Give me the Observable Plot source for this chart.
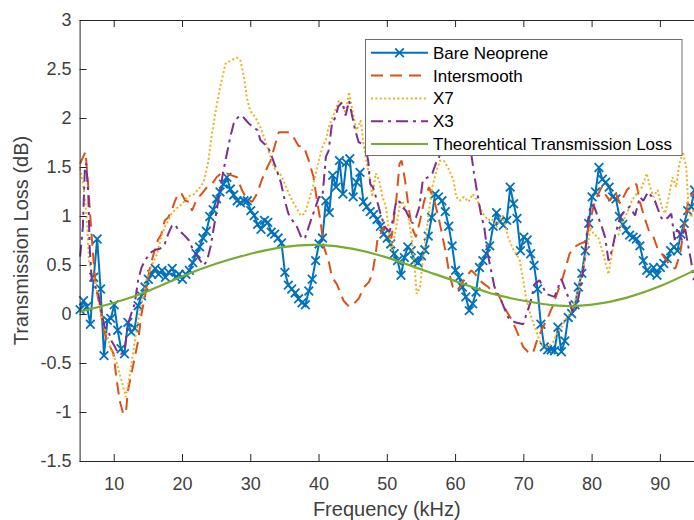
<!DOCTYPE html>
<html>
<head>
<meta charset="utf-8">
<script src="https://cdn.jsdelivr.net/npm/d3@7"></script>
<script src="https://cdn.jsdelivr.net/npm/@observablehq/plot@0.6"></script>
<style>
  html, body { margin: 0; padding: 0; background: #fff; }
  #chart { width: 694px; height: 520px; }
</style>
</head>
<body>
<div id="chart"></div>
<script>
// Bare neoprene panel, sampled every 0.5 kHz
const bareKHz = [
  5,5.5,6,6.5,7,7.5,8,8.5,9,9.5,
  10,10.5,11,11.5,12,12.5,13,13.5,14,14.5,
  15,15.5,16,16.5,17,17.5,18,18.5,19,19.5,
  20,20.5,21,21.5,22,22.5,23,23.5,24,24.5,
  25,25.5,26,26.5,27,27.5,28,28.5,29,29.5,
  30,30.5,31,31.5,32,32.5,33,33.5,34,34.5,
  35,35.5,36,36.5,37,37.5,38,38.5,39,39.5,
  40,40.5,41,41.5,42,42.5,43,43.5,44,44.5,
  45,45.5,46,46.5,47,47.5,48,48.5,49,49.5,
  50,50.5,51,51.5,52,52.5,53,53.5,54,54.5,
  55,55.5,56,56.5,57,57.5,58,58.5,59,59.5,
  60,60.5,61,61.5,62,62.5,63,63.5,64,64.5,
  65,65.5,66,66.5,67,67.5,68,68.5,69,69.5,
  70,70.5,71,71.5,72,72.5,73,73.5,74,74.5,
  75,75.5,76,76.5,77,77.5,78,78.5,79,79.5,
  80,80.5,81,81.5,82,82.5,83,83.5,84,84.5,
  85,85.5,86,86.5,87,87.5,88,88.5,89,89.5,
  90,90.5,91,91.5,92,92.5,93,93.5,94,94.5,
  95
];
const bareDB = [
  0.05,0.14,0.08,-0.10,0.38,0.77,0.26,-0.42,-0.06,-0.04,
  0.10,-0.16,-0.35,-0.40,-0.08,-0.18,-0.14,0.09,0.19,0.28,
  0.36,0.41,0.47,0.41,0.45,0.38,0.43,0.47,0.38,0.41,
  0.36,0.41,0.45,0.53,0.62,0.69,0.78,0.85,1.00,1.07,
  1.18,1.25,1.33,1.40,1.28,1.22,1.16,1.14,1.16,1.16,
  1.06,1.01,0.92,0.87,0.96,0.94,0.84,0.82,0.78,0.73,
  0.43,0.30,0.26,0.22,0.16,0.12,0.10,0.24,0.36,0.55,
  0.72,0.78,1.16,1.04,1.42,1.30,1.57,1.23,1.55,1.59,
  1.20,1.35,1.45,1.15,1.10,1.05,1.02,0.97,0.90,0.82,
  0.78,0.72,0.62,0.55,0.40,0.58,0.69,0.65,0.55,0.53,
  0.60,0.66,0.80,0.99,1.23,1.20,1.16,1.05,0.90,0.70,
  0.45,0.38,0.28,0.18,0.04,0.11,0.23,0.48,0.55,0.62,
  0.70,0.90,1.04,0.95,0.91,0.96,1.30,1.13,0.98,0.65,
  0.79,0.76,0.62,0.50,0.26,-0.10,-0.33,-0.36,-0.36,-0.37,
  -0.13,-0.38,-0.27,-0.03,0.01,0.10,0.28,0.42,0.65,0.93,
  1.20,1.25,1.50,1.38,1.35,1.30,1.20,1.18,1.00,0.92,
  0.86,0.81,0.79,0.77,0.70,0.55,0.45,0.42,0.48,0.40,
  0.48,0.52,0.57,0.65,0.69,0.65,0.82,0.93,1.06,1.10,
  1.27
];

// Intersmooth coating
const interKHz = [
  5.0,5.8,6.2,6.7,7.2,7.6,8.0,8.4,8.9,9.4,
  9.9,10.3,10.8,11.3,11.7,12.0,12.5,13.0,13.5,14.0,
  14.5,14.8,15.3,15.9,16.4,16.9,17.4,17.9,18.4,18.9,
  19.4,19.9,20.4,21.0,21.4,22.1,22.8,23.6,24.3,25.0,
  25.8,26.5,27.2,28.0,28.7,29.4,30.2,30.9,31.6,32.2,
  32.9,33.6,34.1,34.8,35.4,36.1,37.0,37.8,38.5,39.2,
  39.7,40.2,40.7,41.4,41.9,42.6,43.2,43.6,44.4,45.1,
  45.8,46.6,47.3,47.8,48.3,48.6,49.0,49.5,50.0,50.6,
  51.3,51.8,52.1,52.6,53.1,53.6,54.2,54.8,55.4,56.1,
  56.9,57.6,58.1,58.6,59.1,59.6,60.2,60.9,61.5,62.3,
  62.9,63.5,64.2,64.8,65.5,66.2,67.0,67.4,68.2,68.9,
  69.9,70.6,71.3,72.0,72.6,73.5,74.2,75.0,75.8,76.7,
  77.4,78.2,78.9,79.5,80.4,81.4,81.9,82.6,83.4,84.1,
  85.1,86.0,86.5,87.0,87.8,88.3,89.0,89.7,90.2,90.9,
  91.7,92.2,92.9,93.6,94.1,94.7,95.0
];
const interDB = [
  1.54,1.66,1.30,0.79,0.35,0.18,0.04,-0.13,-0.27,-0.33,
  -0.40,-0.64,-0.88,-1.01,-1.01,-0.78,-0.61,-0.44,-0.27,0.01,
  0.18,0.31,0.50,0.65,0.76,0.82,0.96,0.99,1.06,1.16,
  1.24,1.23,1.16,1.15,1.06,1.18,1.23,1.30,1.33,1.40,
  1.45,1.44,1.42,1.40,1.27,1.18,1.15,1.23,1.37,1.47,
  1.57,1.74,1.86,1.86,1.86,1.83,1.72,1.71,1.57,1.40,
  1.16,0.96,0.69,0.55,0.38,0.31,0.21,0.14,0.08,0.11,
  0.16,0.28,0.33,0.41,0.62,0.79,0.82,0.90,0.80,0.78,
  1.16,1.54,1.57,1.37,1.10,0.89,0.79,0.96,1.16,1.30,
  1.16,0.96,0.79,0.62,0.41,0.28,0.24,0.31,0.38,0.45,
  0.41,0.35,0.31,0.28,0.22,0.21,0.10,0.04,-0.05,-0.16,
  -0.33,-0.38,-0.40,-0.25,-0.16,-0.03,0.08,0.24,0.40,0.62,
  0.69,0.72,0.74,0.89,1.16,1.30,1.23,1.16,1.25,1.13,
  1.27,1.33,1.33,1.15,0.96,0.86,0.79,0.65,0.62,0.55,
  0.48,0.47,0.62,0.96,1.16,1.23,1.25
];

// X7 coating
const x7KHz = [
  5.0,5.5,5.8,6.0,6.3,6.8,7.3,7.7,8.2,9.0,
  9.7,10.4,11.2,11.7,12.1,12.6,13.1,13.6,14.3,14.8,
  15.6,16.3,16.9,17.4,18.4,19.4,20.0,20.7,21.7,22.6,
  23.1,23.8,24.3,24.8,25.5,26.3,27.0,28.0,28.5,29.0,
  29.4,29.9,30.7,31.4,32.1,32.9,33.6,34.3,35.0,35.8,
  36.6,37.3,37.9,38.5,39.1,39.7,40.5,41.0,41.4,42.2,
  42.9,43.4,43.9,44.4,44.9,45.5,46.1,46.5,47.0,47.4,
  47.8,48.3,48.8,49.3,49.8,50.3,50.7,51.3,51.8,52.2,
  53.0,53.5,54.0,54.3,54.8,55.2,55.7,56.2,56.6,57.1,
  57.7,58.3,59.1,59.7,60.1,60.6,61.2,61.9,62.5,63.2,
  64.0,64.8,65.3,66.0,66.5,66.9,67.7,68.4,68.9,69.4,
  69.9,70.4,71.1,71.8,72.3,72.8,73.5,74.3,74.8,75.5,
  76.2,77.0,77.7,78.2,78.7,79.2,79.8,80.2,80.9,81.7,
  82.4,82.9,83.4,83.9,84.3,85.1,85.8,86.5,87.3,88.0,
  88.5,89.0,89.6,90.2,90.7,91.3,91.8,92.3,92.8,93.3,
  93.8,94.1,94.5,95.0
];
const x7DB = [
  1.49,1.30,1.10,0.95,0.55,0.40,0.31,0.14,-0.03,-0.23,
  -0.40,-0.50,-0.71,-0.84,-0.69,-0.47,-0.23,-0.03,0.21,0.38,
  0.52,0.62,0.80,0.89,1.03,1.10,1.13,1.20,1.23,1.30,
  1.35,1.57,1.84,2.05,2.32,2.56,2.59,2.62,2.59,2.42,
  2.22,2.08,2.01,1.91,1.78,1.61,1.47,1.44,1.33,1.20,
  1.10,1.01,1.03,1.16,1.30,1.50,1.71,1.78,1.91,2.05,
  2.18,2.15,2.05,2.27,2.08,1.88,1.98,1.75,1.54,1.40,
  1.20,1.44,1.37,1.20,1.10,0.82,0.65,0.89,1.10,1.16,
  1.03,0.82,0.48,0.21,0.28,0.55,0.82,1.10,1.30,1.44,
  1.57,1.57,1.47,1.37,1.20,1.16,1.20,1.15,1.23,1.16,
  1.03,0.96,0.98,0.89,0.96,1.01,0.79,0.67,0.62,0.55,
  0.35,0.14,-0.03,-0.16,-0.27,-0.32,-0.33,-0.28,-0.20,-0.13,
  -0.04,0.04,0.18,0.31,0.48,0.65,0.89,0.82,0.79,0.60,
  0.41,0.62,0.79,0.82,0.93,1.03,1.16,1.23,1.30,1.44,
  1.30,1.20,1.27,1.10,1.03,1.23,1.40,1.30,1.54,1.66,
  1.50,1.10,0.99,1.10
];

// X3 coating
const x3KHz = [
  5.0,5.4,5.7,5.9,6.2,6.4,6.7,7.2,7.6,8.1,
  8.6,9.1,9.6,10.1,10.6,11.1,11.5,12.0,12.5,13.0,
  13.5,14.0,14.5,15.0,15.5,16.0,16.7,17.4,17.9,18.4,
  18.9,19.4,20.1,20.9,21.6,22.4,23.1,23.6,24.1,24.6,
  25.0,25.5,26.0,26.5,27.0,27.5,28.1,28.7,29.2,29.7,
  30.4,31.0,31.4,32.0,32.5,33.1,33.8,34.4,35.0,35.5,
  36.1,36.8,37.5,38.0,38.8,39.5,40.0,40.5,41.0,41.4,
  41.9,42.4,42.8,43.4,43.9,44.4,44.9,45.3,45.8,46.3,
  46.8,47.2,47.5,47.9,48.5,49.0,49.6,50.3,50.8,51.3,
  51.8,52.2,52.7,53.2,53.7,54.2,54.7,55.2,55.9,56.6,
  57.1,57.6,58.5,59.5,60.5,61.5,62.3,62.7,63.2,63.7,
  64.2,64.7,65.2,65.7,66.7,67.7,68.7,69.9,70.9,71.6,
  72.3,73.3,74.5,75.5,76.5,77.2,77.7,78.4,78.9,79.4,
  79.8,80.3,80.9,81.4,81.9,82.4,82.9,83.4,84.1,84.8,
  85.5,86.3,87.0,87.5,88.2,89.2,90.1,90.6,91.1,91.6,
  92.1,92.5,93.1,93.6,94.1,94.5,94.9
];
const x3DB = [
  0.59,0.89,1.50,1.54,1.23,0.69,0.35,0.28,0.24,0.04,
  -0.13,-0.16,-0.27,-0.33,-0.40,-0.40,-0.37,-0.10,0.01,0.11,
  0.35,0.48,0.55,0.60,0.64,0.66,0.67,0.72,0.82,0.90,
  0.92,0.86,0.82,0.76,0.65,0.57,0.50,0.55,0.69,0.89,
  1.06,1.27,1.47,1.64,1.81,1.95,2.01,2.03,1.99,1.95,
  1.91,1.88,1.78,1.74,1.71,1.61,1.47,1.35,1.16,1.03,
  0.96,0.89,0.77,0.79,0.96,1.10,1.20,1.20,1.61,1.67,
  1.95,2.01,2.12,2.17,2.03,2.18,2.01,1.88,1.76,1.74,
  1.71,1.57,1.33,1.30,1.16,1.03,0.90,0.84,0.96,1.16,
  1.15,1.10,1.06,0.99,0.93,0.99,1.10,1.37,1.40,1.44,
  1.54,1.61,1.78,1.85,1.82,1.75,1.64,1.44,1.23,1.03,
  0.89,0.62,0.45,0.28,0.14,-0.03,-0.08,-0.10,0.11,0.31,
  0.35,0.21,0.18,0.36,0.18,0.01,0.07,0.31,0.55,0.96,
  1.13,1.10,0.99,0.90,0.79,0.55,0.65,0.82,0.99,1.06,
  1.10,1.01,1.20,1.16,1.25,1.16,0.99,0.96,0.99,1.03,
  0.76,0.89,0.76,0.89,0.69,0.55,0.35
];

// Theoretical transmission loss
const theoryKHz = [5,10,15,20,25,30,35,40,45,50,55,60,65,70,75,80,85,90,95];
const theoryDB = [0.03,0.12,0.24,0.39,0.52,0.62,0.69,0.71,0.67,0.58,0.46,0.34,0.22,0.14,0.09,0.10,0.17,0.29,0.45];

const xTicks = [10,20,30,40,50,60,70,80,90];
const yTicks = [-1.5,-1,-0.5,0,0.5,1,1.5,2,2.5,3];

const seriesNames = ["Bare Neoprene","Intersmooth","X7","X3","Theorehtical Transmission Loss"];
const seriesColors = ["#0072BD","#D95319","#EDB120","#7E2F8E","#77AC30"];
const seriesDash = [null,"12,7","2,2.4","12,5,3,5",null];

const rows = (ks, ds) => ks.map((f, i) => ({f, v: ds[i]}));
const bare = rows(bareKHz, bareDB);
const inter = rows(interKHz, interDB);
const x7 = rows(x7KHz, x7DB);
const x3 = rows(x3KHz, x3DB);
const theory = rows(theoryKHz, theoryDB);

const W = 694, H = 520;
const mL = 79.6, mR = 0, mT = 20, mB = 59;
const innerW = W - mL - mR, innerH = H - mT - mB;
const axisInk = "#262626";
const tickLen = 7;
const markerR = 4;
const font = "'Liberation Sans', Arial, Helvetica, sans-serif";

const dashed = (data, i) => Plot.line(data, {
  x: "f", y: "v", stroke: seriesColors[i], strokeWidth: 2,
  strokeDasharray: seriesDash[i], strokeLinecap: "butt", strokeLinejoin: "miter"
});

const chart = Plot.plot({
  width: W, height: H,
  marginLeft: mL, marginRight: mR, marginTop: mT, marginBottom: mB,
  style: {fontFamily: font, fontSize: "18px", color: "#404040", background: "#fff", overflow: "visible"},
  x: {domain: [5, 95]},
  y: {domain: [-1.5, 3]},
  marks: [
    // data series
    Plot.line(bare, {x: "f", y: "v", stroke: seriesColors[0], strokeWidth: 2}),
    Plot.dot(bare, {x: "f", y: "v", symbol: "times", r: markerR, stroke: seriesColors[0], fill: "none", strokeWidth: 1.8}),
    dashed(inter, 1),
    dashed(x7, 2),
    dashed(x3, 3),
    Plot.line(theory, {x: "f", y: "v", stroke: seriesColors[4], strokeWidth: 2.2, curve: "natural"}),
    // box and inward ticks
    Plot.frame({stroke: axisInk, strokeWidth: 1}),
    Plot.ruleX(xTicks, {x: d => d, insetTop: innerH - tickLen, stroke: axisInk}),
    Plot.ruleX(xTicks, {x: d => d, insetBottom: innerH - tickLen, stroke: axisInk}),
    Plot.ruleY(yTicks, {y: d => d, insetRight: innerW - tickLen, stroke: axisInk}),
    Plot.axisX(xTicks, {tickSize: 0, tickPadding: 16, tickFormat: d => String(d), label: null}),
    Plot.axisY(yTicks, {tickSize: 0, tickPadding: 8.6, tickFormat: d => String(d), label: null})
  ]
});

document.getElementById("chart").appendChild(chart);

const svg = d3.select(chart);

// axis titles
svg.append("text")
  .attr("x", mL + innerW / 2).attr("y", 516)
  .attr("text-anchor", "middle")
  .attr("font-family", font).attr("font-size", 20).attr("fill", "#404040")
  .text("Frequency (kHz)");
svg.append("text")
  .attr("transform", `translate(28,${mT + innerH / 2}) rotate(-90)`)
  .attr("text-anchor", "middle")
  .attr("font-family", font).attr("font-size", 20).attr("fill", "#404040")
  .text("Transmission Loss (dB)");

// legend box
const lg = svg.append("g");
lg.append("rect")
  .attr("x", 365.5).attr("y", 39.5).attr("width", 316.5).attr("height", 116)
  .attr("fill", "#fff").attr("stroke", "#6e6e6e").attr("stroke-width", 1);
seriesNames.forEach((name, i) => {
  const y = 52.8 + i * 22.8;
  lg.append("line")
    .attr("x1", 371).attr("x2", 428).attr("y1", y).attr("y2", y)
    .attr("stroke", seriesColors[i]).attr("stroke-width", 2)
    .attr("stroke-linecap", "butt")
    .attr("stroke-dasharray", seriesDash[i]);
  if (i === 0) {
    lg.append("path")
      .attr("transform", `translate(399.5,${y})`)
      .attr("d", d3.symbol(d3.symbolTimes, Math.PI * markerR * markerR)())
      .attr("fill", "none").attr("stroke", seriesColors[0]).attr("stroke-width", 1.8);
  }
  lg.append("text")
    .attr("x", 433).attr("y", y).attr("dy", "0.35em")
    .attr("text-anchor", "start")
    .attr("font-family", font).attr("font-size", 17).attr("fill", "#000")
    .text(name);
});
</script>
</body>
</html>
